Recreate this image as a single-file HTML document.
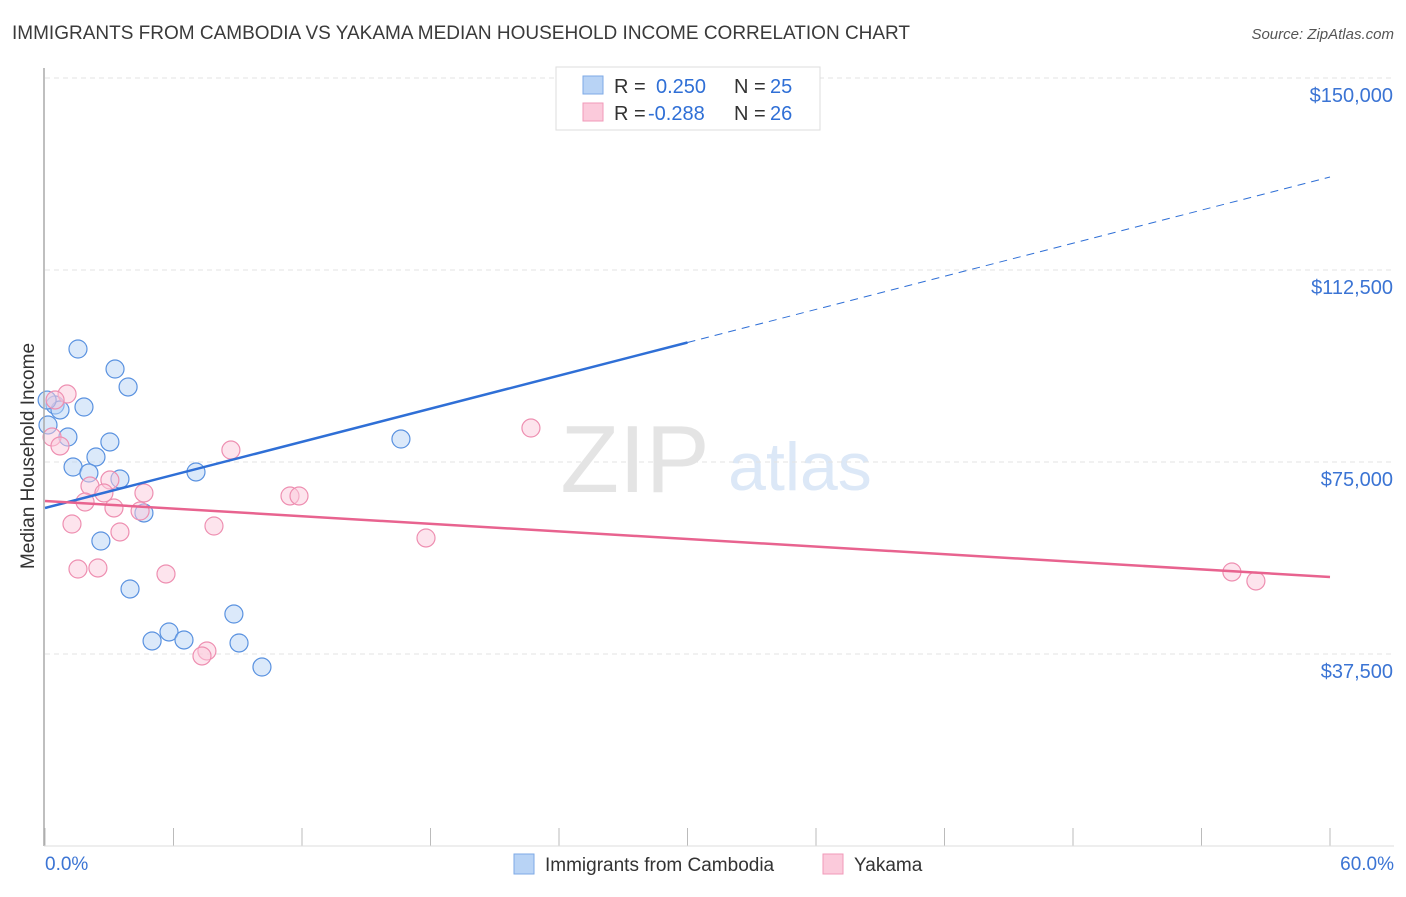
<!DOCTYPE html>
<html><head><meta charset="utf-8"><style>
body{margin:0;background:#fff;font-family:"Liberation Sans",sans-serif}
svg text{font-family:"Liberation Sans",sans-serif}
</style></head><body>
<svg id="chart" width="1406" height="892" xmlns="http://www.w3.org/2000/svg">
<text x="12" y="39" font-size="19" fill="#3a3a3a">IMMIGRANTS FROM CAMBODIA VS YAKAMA MEDIAN HOUSEHOLD INCOME CORRELATION CHART</text>
<text x="1394" y="39" font-size="15" fill="#555" font-style="italic" text-anchor="end">Source: ZipAtlas.com</text>
<text x="635" y="492" font-size="96" fill="#e4e4e4" font-family="Liberation Serif" text-anchor="middle">ZIP</text>
<text x="800" y="490" font-size="68" fill="#dce8f7" text-anchor="middle">atlas</text>
<text transform="translate(34,456) rotate(-90)" font-size="19" fill="#333" text-anchor="middle">Median Household Income</text>
<g id="grid"></g><g id="marks"></g>
<line x1="44" y1="68" x2="44" y2="846" stroke="#aaa" stroke-width="1.5"/>
<line x1="44" y1="846" x2="1394" y2="846" stroke="#ddd"/>
<text x="45" y="870" font-size="19" fill="#3b74d4">0.0%</text>
<text x="1394" y="870" font-size="19" fill="#3b74d4" text-anchor="end">60.0%</text>
<g>
<rect x="556" y="67" width="264" height="63" fill="#fff" stroke="#ddd"/>
<rect x="583" y="76" width="20" height="18" fill="#b8d3f5" stroke="#7ea9e6"/>
<rect x="583" y="103" width="20" height="18" fill="#fbcadb" stroke="#f09ab8"/>
<text y="93" font-size="20" fill="#333"><tspan x="614">R =</tspan><tspan x="656" fill="#2f6fd6">0.250</tspan><tspan x="734">N =</tspan><tspan x="770" fill="#2f6fd6">25</tspan></text>
<text y="120" font-size="20" fill="#333"><tspan x="614">R =</tspan><tspan x="648" fill="#2f6fd6">-0.288</tspan><tspan x="734">N =</tspan><tspan x="770" fill="#2f6fd6">26</tspan></text>
</g>
<g>
<rect x="514" y="854" width="20" height="20" fill="#b8d3f5" stroke="#7ea9e6"/>
<text x="545" y="871" font-size="19" fill="#333">Immigrants from Cambodia</text>
<rect x="823" y="854" width="20" height="20" fill="#fbcadb" stroke="#f09ab8"/>
<text x="854" y="871" font-size="19" fill="#333">Yakama</text>
</g>
</svg>
<script>
const yTicks=[37500,75000,112500,150000];
const yTickLabels=["$37,500","$75,000","$112,500","$150,000"];
const xTicks=[0,6,12,18,24,30,36,42,48,54,60];
const blueX=[1.54,3.27,3.88,1.82,0.47,0.70,1.07,3.03,1.31,2.38,2.05,3.50,7.05,16.62,4.62,2.61,3.97,8.82,5.79,5.00,6.49,9.06,10.13,0.14,0.1];
const blueY=[97070,93160,89650,85740,86130,85160,79880,78910,74020,75980,72850,71680,73050,79490,65040,59570,50200,45310,41800,40040,40240,39650,34960,82230,87100];
const pinkX=[1.03,0.47,0.33,0.70,8.68,22.69,2.10,3.03,1.87,2.75,4.62,3.22,4.44,1.26,3.50,7.89,11.44,11.86,17.79,1.54,2.47,5.65,7.56,7.33,55.42,56.54];
const pinkY=[88280,87110,79880,78130,77340,81640,70310,71480,67190,68950,68950,66020,65430,62890,61330,62500,68360,68360,60160,54100,54300,53130,38090,37110,53520,51760];
const blueTrend=[66020,130660];
const pinkTrend=[67380,52540];
const blueSolidEnd=30;
const NS="http://www.w3.org/2000/svg";
const sx=v=>45+v/60*1285;
const sy=v=>462-(v-75000)*192/37500;
const grid=document.getElementById('grid'),marks=document.getElementById('marks');
function mk(tag,attrs,parent){const e=document.createElementNS(NS,tag);for(const k in attrs)e.setAttribute(k,attrs[k]);parent.appendChild(e);return e;}
yTicks.forEach((t,i)=>{
 const l=mk('line',{x1:45,x2:1394,y1:sy(t),y2:sy(t),stroke:'#e3e3e3','stroke-dasharray':'5,4'},grid);
 
 
 const tx=mk('text',{x:1393,y:sy(t)+24,'font-size':20,fill:'#3b74d4','text-anchor':'end'},grid);
 tx.textContent=yTickLabels[i];
 
 
});
xTicks.forEach(t=>{
 const l=mk('line',{x1:sx(t),x2:sx(t),y1:828,y2:846,stroke:'#bbb'},grid);
 
 
});
function pts(X,Y,fill,stroke,name){X.forEach((x,i)=>{
 const c=mk('circle',{cx:sx(x),cy:sy(Y[i]),r:9,fill:fill,'fill-opacity':0.5,stroke:stroke,'stroke-width':1.2},marks);
 
 
});}
pts(blueX,blueY,'#b8d3f5','#5a92e0','cambodia-point');
pts(pinkX,pinkY,'#fbcadb','#ee8fb1','yakama-point');
const bAt=x=>blueTrend[0]+(blueTrend[1]-blueTrend[0])*x/60;
let l=mk('line',{x1:sx(0),y1:sy(bAt(0)),x2:sx(blueSolidEnd),y2:sy(bAt(blueSolidEnd)),stroke:'#2f6fd6','stroke-width':2.5},marks);


l=mk('line',{x1:sx(blueSolidEnd),y1:sy(bAt(blueSolidEnd)),x2:sx(60),y2:sy(bAt(60)),stroke:'#2f6fd6','stroke-width':1,'stroke-dasharray':'8,6'},marks);


l=mk('line',{x1:sx(0),y1:sy(pinkTrend[0]),x2:sx(60),y2:sy(pinkTrend[1]),stroke:'#e8638f','stroke-width':2.5},marks);


</script>
</body></html>
